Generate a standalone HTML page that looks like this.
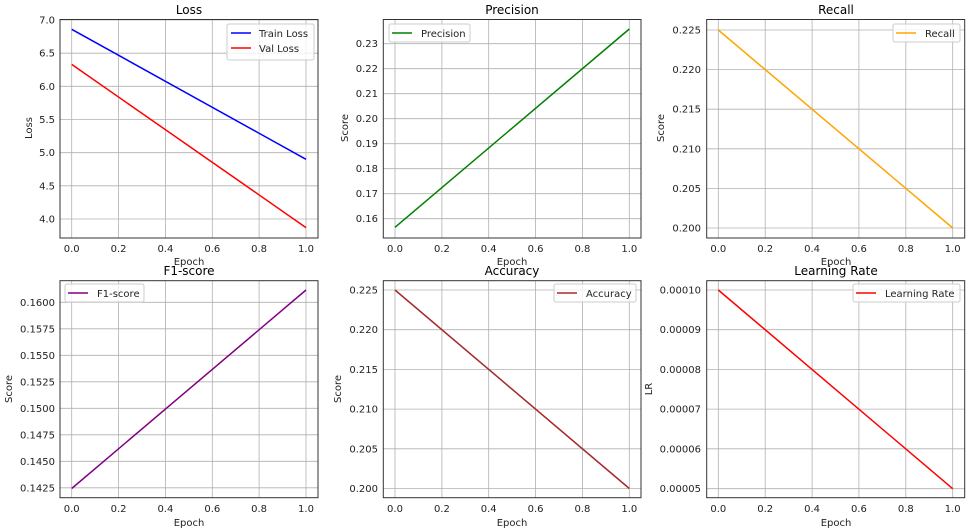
<!DOCTYPE html>
<html><head><meta charset="utf-8"><style>
html,body{margin:0;padding:0;background:#fff;}
svg{display:block;font-family:"DejaVu Sans","Liberation Sans",sans-serif;}
.g{stroke:#b0b0b0;stroke-width:0.8;}
.ax{fill:none;stroke:#333;stroke-width:1;}
.tk{font-size:10px;fill:#222;}
.tl{font-size:12px;fill:#000;}
.lb{font-size:10px;fill:#222;}
.lg{fill:#fff;fill-opacity:0.8;stroke:#ccc;stroke-width:1;}
</style></head><body>
<svg width="974" height="529" viewBox="0 0 974 529" xmlns="http://www.w3.org/2000/svg">
<!-- Panel 1: Loss -->
<g>
<g class="g">
<line x1="71.7" y1="19.5" x2="71.7" y2="238"/><line x1="118.6" y1="19.5" x2="118.6" y2="238"/><line x1="165.4" y1="19.5" x2="165.4" y2="238"/><line x1="212.3" y1="19.5" x2="212.3" y2="238"/><line x1="259.1" y1="19.5" x2="259.1" y2="238"/><line x1="306" y1="19.5" x2="306" y2="238"/>
<line x1="60" y1="20" x2="318" y2="20"/><line x1="60" y1="53.2" x2="318" y2="53.2"/><line x1="60" y1="86.3" x2="318" y2="86.3"/><line x1="60" y1="119.5" x2="318" y2="119.5"/><line x1="60" y1="152.7" x2="318" y2="152.7"/><line x1="60" y1="185.8" x2="318" y2="185.8"/><line x1="60" y1="219" x2="318" y2="219"/>
</g>
<line x1="71.7" y1="29.3" x2="306" y2="159.3" stroke="#0000ff" stroke-width="1.5"/>
<line x1="71.7" y1="64.4" x2="306" y2="227.6" stroke="#ff0000" stroke-width="1.5"/>
<rect class="ax" x="60" y="19.5" width="258" height="218.5"/>
<g class="tk" text-anchor="end">
<text x="55" y="23.5">7.0</text><text x="55" y="56.7">6.5</text><text x="55" y="89.8">6.0</text><text x="55" y="123">5.5</text><text x="55" y="156.2">5.0</text><text x="55" y="189.3">4.5</text><text x="55" y="222.5">4.0</text>
</g>
<g class="tk" text-anchor="middle">
<text x="71.7" y="252">0.0</text><text x="118.6" y="252">0.2</text><text x="165.4" y="252">0.4</text><text x="212.3" y="252">0.6</text><text x="259.1" y="252">0.8</text><text x="306" y="252">1.0</text>
<text x="189" y="265">Epoch</text>
</g>
<text class="lb" text-anchor="middle" transform="translate(32,128) rotate(-90)">Loss</text>
<text class="tl" x="189" y="14" text-anchor="middle">Loss</text>
<rect class="lg" x="227" y="24" width="87" height="36" rx="2"/>
<line x1="231" y1="33" x2="251" y2="33" stroke="#0000ff" stroke-width="1.5"/>
<line x1="231" y1="48" x2="251" y2="48" stroke="#ff0000" stroke-width="1.5"/>
<text class="tk" x="259" y="37">Train Loss</text>
<text class="tk" x="259" y="52">Val Loss</text>
</g>

<!-- Panel 2: Precision -->
<g>
<g class="g">
<line x1="395" y1="19.5" x2="395" y2="238"/><line x1="441.9" y1="19.5" x2="441.9" y2="238"/><line x1="488.7" y1="19.5" x2="488.7" y2="238"/><line x1="535.6" y1="19.5" x2="535.6" y2="238"/><line x1="582.4" y1="19.5" x2="582.4" y2="238"/><line x1="629.3" y1="19.5" x2="629.3" y2="238"/>
<line x1="383.3" y1="43.7" x2="641" y2="43.7"/><line x1="383.3" y1="68.7" x2="641" y2="68.7"/><line x1="383.3" y1="93.7" x2="641" y2="93.7"/><line x1="383.3" y1="118.7" x2="641" y2="118.7"/><line x1="383.3" y1="143.7" x2="641" y2="143.7"/><line x1="383.3" y1="168.7" x2="641" y2="168.7"/><line x1="383.3" y1="193.7" x2="641" y2="193.7"/><line x1="383.3" y1="218.7" x2="641" y2="218.7"/>
</g>
<line x1="395" y1="227.3" x2="629.3" y2="29" stroke="#008000" stroke-width="1.5"/>
<rect class="ax" x="383.3" y="19.5" width="257.7" height="218.5"/>
<g class="tk" text-anchor="end">
<text x="378" y="47.2">0.23</text><text x="378" y="72.2">0.22</text><text x="378" y="97.2">0.21</text><text x="378" y="122.2">0.20</text><text x="378" y="147.2">0.19</text><text x="378" y="172.2">0.18</text><text x="378" y="197.2">0.17</text><text x="378" y="222.2">0.16</text>
</g>
<g class="tk" text-anchor="middle">
<text x="395" y="252">0.0</text><text x="441.9" y="252">0.2</text><text x="488.7" y="252">0.4</text><text x="535.6" y="252">0.6</text><text x="582.4" y="252">0.8</text><text x="629.3" y="252">1.0</text>
<text x="512" y="265">Epoch</text>
</g>
<text class="lb" text-anchor="middle" transform="translate(348,128) rotate(-90)">Score</text>
<text class="tl" x="512" y="14" text-anchor="middle">Precision</text>
<rect class="lg" x="389" y="24" width="81" height="18" rx="2"/>
<line x1="392" y1="33" x2="412" y2="33" stroke="#008000" stroke-width="1.5"/>
<text class="tk" x="421" y="37">Precision</text>
</g>

<!-- Panel 3: Recall -->
<g>
<g class="g">
<line x1="718.3" y1="19.5" x2="718.3" y2="238"/><line x1="765.2" y1="19.5" x2="765.2" y2="238"/><line x1="812.1" y1="19.5" x2="812.1" y2="238"/><line x1="858.9" y1="19.5" x2="858.9" y2="238"/><line x1="905.8" y1="19.5" x2="905.8" y2="238"/><line x1="952.7" y1="19.5" x2="952.7" y2="238"/>
<line x1="706.7" y1="30" x2="964.7" y2="30"/><line x1="706.7" y1="69.6" x2="964.7" y2="69.6"/><line x1="706.7" y1="109.2" x2="964.7" y2="109.2"/><line x1="706.7" y1="148.8" x2="964.7" y2="148.8"/><line x1="706.7" y1="188.4" x2="964.7" y2="188.4"/><line x1="706.7" y1="228" x2="964.7" y2="228"/>
</g>
<line x1="718.3" y1="30" x2="952.7" y2="228" stroke="#ffa500" stroke-width="1.5"/>
<rect class="ax" x="706.7" y="19.5" width="258" height="218.5"/>
<g class="tk" text-anchor="end">
<text x="701" y="33.5">0.225</text><text x="701" y="73.1">0.220</text><text x="701" y="112.7">0.215</text><text x="701" y="152.3">0.210</text><text x="701" y="191.9">0.205</text><text x="701" y="231.5">0.200</text>
</g>
<g class="tk" text-anchor="middle">
<text x="718.3" y="252">0.0</text><text x="765.2" y="252">0.2</text><text x="812.1" y="252">0.4</text><text x="858.9" y="252">0.6</text><text x="905.8" y="252">0.8</text><text x="952.7" y="252">1.0</text>
<text x="836" y="265">Epoch</text>
</g>
<text class="lb" text-anchor="middle" transform="translate(664,128) rotate(-90)">Score</text>
<text class="tl" x="836" y="14" text-anchor="middle">Recall</text>
<rect class="lg" x="893" y="24" width="67" height="18" rx="2"/>
<line x1="896" y1="33" x2="916" y2="33" stroke="#ffa500" stroke-width="1.5"/>
<text class="tk" x="925" y="37">Recall</text>
</g>

<!-- Panel 4: F1 -->
<g>
<g class="g">
<line x1="71.7" y1="280.7" x2="71.7" y2="497.7"/><line x1="118.6" y1="280.7" x2="118.6" y2="497.7"/><line x1="165.4" y1="280.7" x2="165.4" y2="497.7"/><line x1="212.3" y1="280.7" x2="212.3" y2="497.7"/><line x1="259.1" y1="280.7" x2="259.1" y2="497.7"/><line x1="306" y1="280.7" x2="306" y2="497.7"/>
<line x1="60" y1="302.3" x2="318" y2="302.3"/><line x1="60" y1="328.8" x2="318" y2="328.8"/><line x1="60" y1="355.3" x2="318" y2="355.3"/><line x1="60" y1="381.8" x2="318" y2="381.8"/><line x1="60" y1="408.3" x2="318" y2="408.3"/><line x1="60" y1="434.8" x2="318" y2="434.8"/><line x1="60" y1="461.3" x2="318" y2="461.3"/><line x1="60" y1="487.8" x2="318" y2="487.8"/>
</g>
<line x1="71.7" y1="488.5" x2="306" y2="290" stroke="#800080" stroke-width="1.5"/>
<rect class="ax" x="60" y="280.7" width="258" height="217"/>
<g class="tk" text-anchor="end">
<text x="55" y="305.8">0.1600</text><text x="55" y="332.3">0.1575</text><text x="55" y="358.8">0.1550</text><text x="55" y="385.3">0.1525</text><text x="55" y="411.8">0.1500</text><text x="55" y="438.3">0.1475</text><text x="55" y="464.8">0.1450</text><text x="55" y="491.3">0.1425</text>
</g>
<g class="tk" text-anchor="middle">
<text x="71.7" y="512">0.0</text><text x="118.6" y="512">0.2</text><text x="165.4" y="512">0.4</text><text x="212.3" y="512">0.6</text><text x="259.1" y="512">0.8</text><text x="306" y="512">1.0</text>
<text x="189" y="526">Epoch</text>
</g>
<text class="lb" text-anchor="middle" transform="translate(12,389) rotate(-90)">Score</text>
<text class="tl" x="189" y="275" text-anchor="middle">F1-score</text>
<rect class="lg" x="65" y="284" width="79" height="18" rx="2"/>
<line x1="68" y1="293" x2="88" y2="293" stroke="#800080" stroke-width="1.5"/>
<text class="tk" x="97" y="297">F1-score</text>
</g>

<!-- Panel 5: Accuracy -->
<g>
<g class="g">
<line x1="395" y1="280.7" x2="395" y2="497.7"/><line x1="441.9" y1="280.7" x2="441.9" y2="497.7"/><line x1="488.7" y1="280.7" x2="488.7" y2="497.7"/><line x1="535.6" y1="280.7" x2="535.6" y2="497.7"/><line x1="582.4" y1="280.7" x2="582.4" y2="497.7"/><line x1="629.3" y1="280.7" x2="629.3" y2="497.7"/>
<line x1="383.3" y1="290" x2="641" y2="290"/><line x1="383.3" y1="329.7" x2="641" y2="329.7"/><line x1="383.3" y1="369.4" x2="641" y2="369.4"/><line x1="383.3" y1="409.1" x2="641" y2="409.1"/><line x1="383.3" y1="448.8" x2="641" y2="448.8"/><line x1="383.3" y1="488.5" x2="641" y2="488.5"/>
</g>
<line x1="395" y1="290" x2="629.3" y2="488.5" stroke="#a52a2a" stroke-width="1.5"/>
<rect class="ax" x="383.3" y="280.7" width="257.7" height="217"/>
<g class="tk" text-anchor="end">
<text x="378" y="293.5">0.225</text><text x="378" y="333.2">0.220</text><text x="378" y="372.9">0.215</text><text x="378" y="412.6">0.210</text><text x="378" y="452.3">0.205</text><text x="378" y="492">0.200</text>
</g>
<g class="tk" text-anchor="middle">
<text x="395" y="512">0.0</text><text x="441.9" y="512">0.2</text><text x="488.7" y="512">0.4</text><text x="535.6" y="512">0.6</text><text x="582.4" y="512">0.8</text><text x="629.3" y="512">1.0</text>
<text x="512" y="526">Epoch</text>
</g>
<text class="lb" text-anchor="middle" transform="translate(341,389) rotate(-90)">Score</text>
<text class="tl" x="512" y="275" text-anchor="middle">Accuracy</text>
<rect class="lg" x="554" y="284" width="82" height="18" rx="2"/>
<line x1="557" y1="293" x2="577" y2="293" stroke="#a52a2a" stroke-width="1.5"/>
<text class="tk" x="586" y="297">Accuracy</text>
</g>

<!-- Panel 6: Learning Rate -->
<g>
<g class="g">
<line x1="718.3" y1="280.7" x2="718.3" y2="497.7"/><line x1="765.2" y1="280.7" x2="765.2" y2="497.7"/><line x1="812.1" y1="280.7" x2="812.1" y2="497.7"/><line x1="858.9" y1="280.7" x2="858.9" y2="497.7"/><line x1="905.8" y1="280.7" x2="905.8" y2="497.7"/><line x1="952.7" y1="280.7" x2="952.7" y2="497.7"/>
<line x1="706.7" y1="290" x2="964.7" y2="290"/><line x1="706.7" y1="329.7" x2="964.7" y2="329.7"/><line x1="706.7" y1="369.4" x2="964.7" y2="369.4"/><line x1="706.7" y1="409.1" x2="964.7" y2="409.1"/><line x1="706.7" y1="448.8" x2="964.7" y2="448.8"/><line x1="706.7" y1="488.7" x2="964.7" y2="488.7"/>
</g>
<line x1="718.3" y1="290" x2="952.7" y2="488.7" stroke="#ff0000" stroke-width="1.5"/>
<rect class="ax" x="706.7" y="280.7" width="258" height="217"/>
<g class="tk" text-anchor="end">
<text x="701" y="293.5">0.00010</text><text x="701" y="333.2">0.00009</text><text x="701" y="372.9">0.00008</text><text x="701" y="412.6">0.00007</text><text x="701" y="452.3">0.00006</text><text x="701" y="492.2">0.00005</text>
</g>
<g class="tk" text-anchor="middle">
<text x="718.3" y="512">0.0</text><text x="765.2" y="512">0.2</text><text x="812.1" y="512">0.4</text><text x="858.9" y="512">0.6</text><text x="905.8" y="512">0.8</text><text x="952.7" y="512">1.0</text>
<text x="836" y="526">Epoch</text>
</g>
<text class="lb" text-anchor="middle" transform="translate(652,389) rotate(-90)">LR</text>
<text class="tl" x="836" y="275" text-anchor="middle">Learning Rate</text>
<rect class="lg" x="853" y="284" width="107" height="18" rx="2"/>
<line x1="856" y1="293" x2="876" y2="293" stroke="#ff0000" stroke-width="1.5"/>
<text class="tk" x="885" y="297">Learning Rate</text>
</g>
</svg>
</body></html>
